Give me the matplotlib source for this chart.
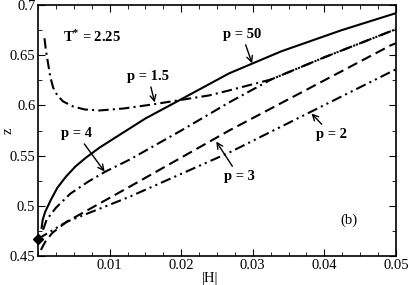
import matplotlib
matplotlib.use('Agg')
import matplotlib.pyplot as plt
from matplotlib.ticker import MultipleLocator, FormatStrFormatter

plt.rcParams['font.family'] = 'Liberation Serif'
plt.rcParams['mathtext.fontset'] = 'custom'
plt.rcParams['mathtext.rm'] = 'Liberation Serif'
plt.rcParams['mathtext.bf'] = 'Liberation Serif:bold'

# p = 50 (solid)
h50 = [0.0005, 0.00065, 0.001, 0.0018, 0.0027, 0.0039, 0.0052, 0.0067, 0.0086, 0.0108,
       0.0150, 0.0197, 0.0267, 0.0340, 0.0424, 0.05]
z50 = [0.478, 0.486, 0.494, 0.506, 0.518, 0.529, 0.539, 0.548, 0.558, 0.568,
       0.587, 0.605, 0.632, 0.654, 0.675, 0.692]

# p = 1.5 (dash-dot)
h15 = [0.0009, 0.0011, 0.0014, 0.0017, 0.0021, 0.0027, 0.0035, 0.0049, 0.0065, 0.0086,
       0.012, 0.016, 0.0239, 0.0267, 0.0326, 0.04, 0.05]
z15 = [0.667, 0.655, 0.642, 0.629, 0.618, 0.610, 0.604, 0.599, 0.596, 0.595,
       0.597, 0.601, 0.610, 0.615, 0.626, 0.648, 0.676]

# p = 4 (dash-dot)
h4 = [0.0007, 0.0012, 0.0025, 0.0045, 0.0070, 0.0094, 0.0128, 0.0200, 0.0267, 0.0326, 0.04, 0.05]
z4 = [0.476, 0.486, 0.498, 0.512, 0.524, 0.534, 0.546, 0.575, 0.603, 0.626, 0.648, 0.676]

# p = 3 (dashed)
h3 = [0.0004, 0.001, 0.002, 0.004, 0.0128, 0.0267, 0.0493, 0.05]
z3 = [0.456, 0.464, 0.473, 0.484, 0.519, 0.575, 0.660, 0.662]

# p = 2 (dash-dot-dot)
h2 = [0.0, 0.004, 0.0128, 0.0267, 0.05]
z2 = [0.467, 0.484, 0.509, 0.553, 0.636]

fig = plt.figure(figsize=(4.09, 2.85), dpi=100)
ax = fig.add_axes([0.093, 0.102, 0.875, 0.880])

lw = 1.5
ax.plot(h50, z50, color='black', lw=lw)
ax.plot(h15, z15, color='black', lw=lw, linestyle=(0, (5, 2, 1, 2)))
ax.plot(h4, z4, color='black', lw=lw, linestyle=(0, (5, 2, 1, 2)))
ax.plot(h3, z3, color='black', lw=lw, linestyle=(0, (5, 2.5)))
ax.plot(h2, z2, color='black', lw=lw, linestyle=(0, (5, 2, 1, 2, 1, 2)))
ax.plot([0.0], [0.467], marker='D', color='black', markersize=5, clip_on=False)

arr = dict(arrowstyle='->', color='black', lw=1, shrinkA=1, shrinkB=0)
ax.annotate('p = 50', xy=(0.0299, 0.642), xytext=(0.0285, 0.671), ha='center', va='center',
            fontsize=10.5, fontweight='bold', arrowprops=arr)
ax.annotate('p = 1.5', xy=(0.0163, 0.603), xytext=(0.0154, 0.629), ha='center', va='center',
            fontsize=10.5, fontweight='bold', arrowprops=arr)
ax.annotate('p = 4', xy=(0.0093, 0.534), xytext=(0.0054, 0.572), ha='center', va='center',
            fontsize=10.5, fontweight='bold', arrowprops=arr)
ax.annotate('p = 2', xy=(0.0382, 0.592), xytext=(0.041, 0.571), ha='center', va='center',
            fontsize=10.5, fontweight='bold', arrowprops=arr)
ax.annotate('p = 3', xy=(0.0249, 0.564), xytext=(0.0281, 0.529), ha='center', va='center',
            fontsize=10.5, fontweight='bold', arrowprops=arr)
ax.text(0.0075, 0.668, r'$\mathbf{T^{*}}$ = 2.25', ha='center', va='center', fontsize=10.5, fontweight='bold')
ax.text(0.0435, 0.486, '(b)', ha='center', va='center', fontsize=10.5)

ax.set_xlim(0, 0.05)
ax.set_ylim(0.45, 0.7)
ax.xaxis.set_major_locator(MultipleLocator(0.01))
ax.xaxis.set_minor_locator(MultipleLocator(0.0025))
ax.yaxis.set_major_locator(MultipleLocator(0.05))
ax.yaxis.set_minor_locator(MultipleLocator(0.025))
ax.xaxis.set_major_formatter(FormatStrFormatter('%g'))
ax.yaxis.set_major_formatter(FormatStrFormatter('%g'))
ax.set_xticks([0.01, 0.02, 0.03, 0.04, 0.05])
ax.tick_params(which='both', direction='in', top=True, right=True, labelsize=10.5)
ax.tick_params(which='major', length=5, pad=2)
ax.tick_params(which='minor', length=3)
for s in ax.spines.values():
    s.set_linewidth(1.2)

ax.set_xlabel('|H|', fontsize=10.5)
ax.set_ylabel('z', fontsize=10.5)
ax.xaxis.set_label_coords(0.48, -0.066)
ax.yaxis.set_label_coords(-0.066, 0.5)

fig.savefig('out.png', dpi=100)
